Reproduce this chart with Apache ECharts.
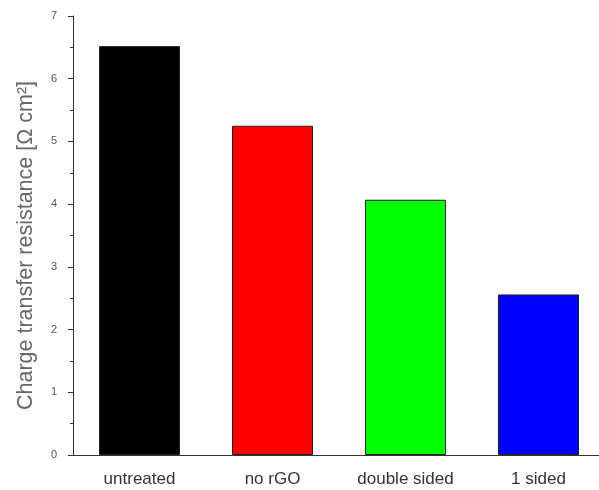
<!DOCTYPE html>
<html>
<head>
<meta charset="utf-8">
<script src="https://cdn.jsdelivr.net/npm/echarts@6/dist/echarts.min.js"></script>
<style>
  html, body { margin: 0; padding: 0; background: #fff; overflow: hidden; }
  #wrap { width: 599px; height: 490px; overflow: hidden; }
  /* the plot runs slightly past the right edge, so the canvas is a bit wider than the view */
  #chart { width: 612px; height: 490px; }
</style>
</head>
<body>
<div id="wrap"><div id="chart"></div></div>
<script>
// Samples and their charge transfer resistance (Ω cm²)
const categories = ['untreated', 'no rGO', 'double sided', '1 sided'];
const resistance = [6.52, 5.25, 4.07, 2.56];
const barColors = ['#000000', '#ff0000', '#00ff00', '#0000ff'];
const yTicks = [0, 1, 2, 3, 4, 5, 6, 7];

const chart = echarts.init(document.getElementById('chart'), null, { renderer: 'canvas' });

const axisGray = '#333';
const font = 'Liberation Sans, Arial, sans-serif';

chart.setOption({
  animation: false,
  backgroundColor: '#fff',
  grid: { left: 73, top: 16, right: 7, bottom: 35, containLabel: false },
  xAxis: [
    {
      type: 'category',
      data: categories,
      axisLine: { lineStyle: { color: axisGray, width: 1 } },
      axisTick: { alignWithLabel: true, length: 5, lineStyle: { color: axisGray } },
      axisLabel: { color: '#333', fontFamily: font, fontSize: 17, margin: 16 }
    },
    {
      // boundary ticks between categories
      type: 'category',
      data: categories,
      position: 'bottom',
      axisLine: { show: false },
      axisTick: { alignWithLabel: false, length: 3, lineStyle: { color: axisGray } },
      axisLabel: { show: false }
    }
  ],
  yAxis: {
    type: 'value',
    min: yTicks[0],
    max: yTicks[yTicks.length - 1],
    interval: 1,
    name: 'Charge transfer resistance [Ω cm²]',
    nameLocation: 'middle',
    nameGap: 36,
    nameTextStyle: { color: '#666', fontFamily: font, fontSize: 21.5, padding: [0, 20, 0, 0] },
    axisLine: { show: true, lineStyle: { color: axisGray, width: 1 } },
    axisTick: { show: true, length: 5, lineStyle: { color: axisGray } },
    minorTick: { show: true, splitNumber: 2, length: 3, lineStyle: { color: axisGray } },
    splitLine: { show: false },
    axisLabel: { color: '#555', fontFamily: font, fontSize: 11, margin: 16 }
  },
  series: [{
    type: 'bar',
    xAxisIndex: 0,
    barWidth: 81,
    data: resistance.map((v, i) => ({
      value: v,
      itemStyle: { color: barColors[i], borderColor: '#222', borderWidth: 1 }
    }))
  }]
});
</script>
</body>
</html>
